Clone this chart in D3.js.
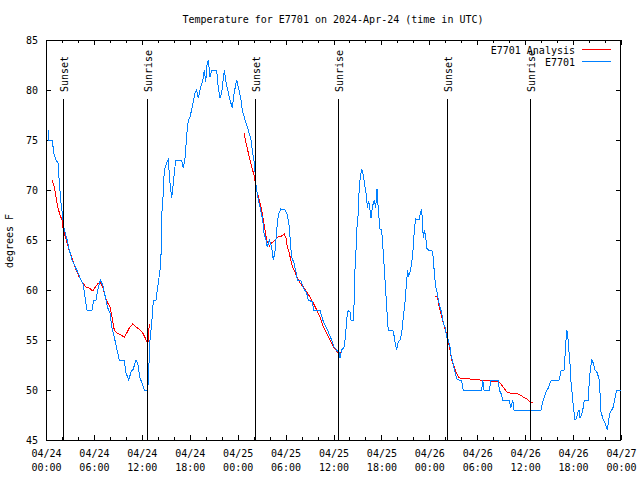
<!DOCTYPE html>
<html>
<head>
<meta charset="utf-8">
<script src="https://cdn.jsdelivr.net/npm/d3@7"></script>
<style>
body { margin: 0; background: #fff; }
text { font-family: "DejaVu Sans Mono", monospace; font-size: 10px; fill: #000; }
</style>
</head>
<body>
<svg id="chart" width="640" height="480"></svg>
<script>
var title = "Temperature for E7701 on 2024-Apr-24 (time in UTC)";
var yLabel = "degrees F";
var startDay = Date.UTC(2024, 3, 24);   // 04/24 00:00 UTC
var endDay = Date.UTC(2024, 3, 27);

// observed E7701 (hours since 04/24 00:00, degrees F)
var obsHours = [0.25,0.34,0.84,0.91,1.25,1.50,1.67,1.88,2.09,2.29,2.59,2.92,3.26,3.67,3.97,4.38,4.67,4.88,5.13,5.76,
  5.97,6.26,6.47,6.80,7.10,7.43,7.73,8.01,8.23,8.55,8.89,9.18,9.80,10.02,10.36,10.64,10.93,11.27,11.48,11.77,
  12.02,12.31,12.73,12.81,13.02,13.27,13.44,13.77,14.06,14.36,14.46,14.53,14.69,14.81,15.11,15.31,15.53,15.74,15.94,16.24,
  16.99,17.19,17.41,17.62,17.82,18.03,18.37,18.66,18.87,19.07,19.28,19.70,19.82,20.00,20.16,20.32,20.54,20.75,21.37,21.50,
  21.79,22.00,22.33,22.50,22.75,23.04,23.33,23.58,23.88,24.08,24.42,24.58,24.92,25.33,25.67,25.83,26.08,26.30,26.58,26.88,
  27.14,27.30,27.55,27.71,27.96,28.26,28.46,28.67,28.89,29.09,29.39,29.93,30.22,30.47,30.64,30.77,31.05,31.30,31.47,31.89,
  32.22,32.64,32.85,33.40,33.47,34.31,34.65,35.06,35.35,35.77,36.06,36.40,36.73,36.81,37.03,37.35,37.53,37.69,37.85,38.07,
  38.19,38.48,38.57,38.69,38.82,38.91,39.11,39.19,39.32,39.53,39.73,39.94,40.16,40.23,40.36,40.48,40.70,40.86,41.11,41.28,
  41.45,41.61,41.82,42.03,42.24,42.45,42.66,42.79,42.86,43.49,43.70,43.91,44.11,44.33,44.54,44.74,44.95,45.04,45.17,45.29,
  45.37,45.58,45.79,45.99,46.12,46.29,46.71,46.87,47.04,47.12,47.24,47.37,47.55,47.67,47.87,48.30,48.50,48.62,48.80,48.92,
  49.12,49.34,49.55,49.75,49.96,50.17,50.38,50.59,50.71,50.93,51.09,51.25,51.43,52.05,52.25,54.56,54.68,54.85,55.51,55.72,
  56.64,56.76,57.06,57.19,58.01,58.19,58.44,58.60,61.98,62.20,62.61,62.90,63.20,64.28,64.45,64.90,65.03,65.20,65.33,65.45,
  65.61,65.74,65.90,66.03,66.24,66.45,66.58,66.74,66.87,67.08,67.28,67.41,67.91,68.03,68.21,68.33,68.53,68.75,69.03,69.28,
  69.37,69.50,69.78,70.00,70.29,70.46,70.62,70.84,71.04,71.25,71.46,72.00];
var obsTemps = [76,75,75,73.8,73,72.7,70.7,68.7,67.3,66,65.2,64,63,62.3,61.8,61,60.5,59.3,58,58,
  59,59,60,61,60.5,59.3,58.2,57.7,56.3,55.3,54,53,53,51.7,51,51.8,52.1,53,52.7,51.2,
  50.7,50,50,51,55,57,59,59,60.7,62.5,65,68,69.7,72,72.7,73,70.7,69.2,70.7,73,
  73,72.2,73.2,75.5,77,77.3,78.5,79.7,80,79.2,80,81.2,82,80.8,82.5,83,81.3,82,82,80.7,
  79.2,79.7,82,81,80,79,78.2,79.8,81,80.3,79,78,77,76,75,74,72.7,70.5,69,68,
  67,65.7,65,64.3,65,64.3,63,63.8,66,67.5,68.1,68,67.5,66.3,64.3,63.3,62.7,61.8,61,61,
  60.2,59.7,59,58.8,58,58,57,56.3,55.8,55,54.3,54,53.7,53.2,54,54.3,55.7,57.3,58,57.8,
  57,57,58.5,62,64,66,67.8,69.7,71,72.1,71.5,70.3,69.3,68.2,68.8,68.6,67.2,68.3,69,68.2,
  70.1,68,66.1,66,63.7,61,58.3,56.7,56,55.9,54.8,54,54.8,55,55.7,57.3,58.7,59.7,61,62,
  61.3,61.8,62.7,64.3,66,67.1,67,67.7,68.1,67,65.2,66,65.3,64.2,64,64,63.3,61.7,60.3,60,
  59,58.3,57.7,56.7,56.3,55.3,55,54.3,53.5,52.8,52.2,51.7,51.1,50.9,50,50,51,50,50,51,
  51,50,49.5,49,49,48.2,49,48,48,48.8,49.8,50.2,50.9,51,51.9,52,54,56,55.5,54.2,
  52.7,50.8,49.5,48.3,47,47.2,47.7,48,47.2,47.5,48.3,49,49,51,52.3,53,52.7,52,51.7,51,
  49.7,47.8,47,46.7,46,47,47.7,48,48.3,49.2,50,50];

// E7701 Analysis, three runs (null = gap)
var anaHours = [0.75,1.04,1.25,1.47,1.75,2.00,2.17,2.42,2.72,3.01,3.34,3.76,4.17,4.60,5.01,5.42,5.85,6.17,6.47,6.80,
  7.10,7.43,7.73,8.01,8.26,8.55,8.85,9.39,9.80,10.11,10.43,10.86,11.27,11.68,12.11,12.43,12.65,12.77,12.86,12.94,
  13.0,
  24.79,25.13,25.46,25.76,26.05,26.30,26.46,26.71,27.01,27.21,27.42,27.64,27.96,28.26,28.67,29.09,29.51,29.84,30.05,30.22,
  30.47,30.64,30.89,31.18,31.47,31.81,32.22,32.64,33.06,33.47,33.90,34.31,34.72,35.15,35.56,35.98,36.31,36.60,36.94,
  37.0,
  48.71,49.00,49.25,49.55,49.84,50.17,50.38,50.59,50.80,51.09,51.34,51.63,51.84,53.09,54.35,55.60,56.64,56.85,57.06,57.35,
  57.69,58.10,58.94,59.35,59.77,60.19,60.61,60.94];
var anaTemps = [71,70.3,69.3,68.3,67.5,67,66,65.3,64.5,63.7,63,62,61.3,60.7,60.3,60.2,59.9,60.3,60.6,60.8,
  60.3,59.3,58.7,58.3,57.3,56,55.7,55.5,55.3,55.7,56.2,56.6,56.3,56.1,55.7,55.2,54.8,54.7,55.7,56.6,
  null,
  75.7,74.4,73.3,72.3,71.5,70.3,69.7,69,68,67,66,65,64.4,64.7,65,65.3,65.4,65.6,65.2,64.3,
  63.7,63,62.3,61.8,61.2,60.7,60.3,59.8,59.3,58.7,58,57.3,56.3,55.7,55,54.3,54,53.7,53.8,
  null,
  59.4,59.3,58.3,57.3,56.5,55.5,54.8,54,53,52.4,51.8,51.3,51.2,51.1,51,50.9,50.8,50.7,50.5,50.2,
  49.8,49.7,49.7,49.5,49.3,49.1,48.8,48.7];

var sunHours = [2.17, 12.68, 26.21, 36.62, 50.25, 60.62];
var sunNames = ["Sunset", "Sunrise", "Sunset", "Sunrise", "Sunset", "Sunrise"];
var yTicks = [45, 50, 55, 60, 65, 70, 75, 80, 85];
var seriesNames = ["E7701 Analysis", "E7701"];
var seriesColors = ["#ff0000", "#0080ff"];

var svg = d3.select("#chart");
var plotL = 46, plotR = 621, plotT = 40, plotB = 440;

function hourToDate(h) { return new Date(startDay + h * 3600000); }

var x = d3.scaleUtc().domain([new Date(startDay), new Date(endDay)]).range([plotL, plotR]);
var y = d3.scaleLinear().domain([45, 85]).range([plotB, plotT]);

// title
svg.append("text").attr("x", 333).attr("y", 23).attr("text-anchor", "middle").text(title);

// y label
svg.append("text")
  .attr("transform", "translate(13,241) rotate(-90)")
  .attr("text-anchor", "middle")
  .text(yLabel);

// axes: ticks point inward, mirrored on the other side
var fmtDay = d3.utcFormat("%m/%d"), fmtTime = d3.utcFormat("%H:%M");
var majorX = d3.utcHour.every(6).range(new Date(startDay), new Date(endDay + 1));
var minorX = d3.utcHour.every(2).range(new Date(startDay), new Date(endDay + 1));

var xb = svg.append("g").attr("transform", "translate(0," + plotB + ")")
  .call(d3.axisBottom(x).tickValues(majorX).tickSize(-5).tickSizeOuter(0)
    .tickFormat(function(d) { return fmtDay(d); }));
xb.selectAll(".tick text").each(function(d) {
  var t = d3.select(this).text("").attr("dy", null).attr("y", 17);
  t.append("tspan").attr("x", 0).text(fmtDay(d));
  t.append("tspan").attr("x", 0).attr("dy", 14).text(fmtTime(d));
});
svg.append("g").attr("transform", "translate(0," + plotB + ")")
  .call(d3.axisBottom(x).tickValues(minorX).tickSize(-3).tickSizeOuter(0).tickFormat(""));
svg.append("g").attr("transform", "translate(0," + plotT + ")")
  .call(d3.axisTop(x).tickValues(majorX).tickSize(-5).tickSizeOuter(0).tickFormat(""));
svg.append("g").attr("transform", "translate(0," + plotT + ")")
  .call(d3.axisTop(x).tickValues(minorX).tickSize(-3).tickSizeOuter(0).tickFormat(""));

svg.append("g").attr("transform", "translate(" + plotL + ",0)")
  .call(d3.axisLeft(y).tickValues(yTicks).tickSize(-5).tickSizeOuter(0).tickPadding(8));
svg.append("g").attr("transform", "translate(" + plotR + ",0)")
  .call(d3.axisRight(y).tickValues(yTicks).tickSize(-5).tickSizeOuter(0).tickFormat(""));

svg.selectAll(".domain").remove();
svg.selectAll(".tick line").attr("stroke", "#000").attr("shape-rendering", "crispEdges");
svg.selectAll(".tick text").attr("font-family", null).attr("font-size", null);

// frame
svg.append("rect").attr("x", plotL + 0.5).attr("y", plotT + 0.5)
  .attr("width", plotR - plotL - 1).attr("height", plotB - plotT)
  .attr("fill", "none").attr("stroke", "#000").attr("shape-rendering", "crispEdges");

// series
var line = d3.line()
  .defined(function(d) { return d[1] != null; })
  .x(function(d) { return x(hourToDate(d[0])); })
  .y(function(d) { return y(d[1]); });

var anaData = anaHours.map(function(h, i) { return [h, anaTemps[i]]; });
var obsData = obsHours.map(function(h, i) { return [h, obsTemps[i]]; });

svg.append("path").datum(anaData).attr("d", line)
  .style("fill", "none").style("stroke", seriesColors[0]).style("stroke-width", 1)
  .attr("shape-rendering", "crispEdges");
svg.append("path").datum(obsData).attr("d", line)
  .style("fill", "none").style("stroke", seriesColors[1]).style("stroke-width", 1)
  .attr("shape-rendering", "crispEdges");

// sunrise / sunset markers
sunHours.forEach(function(h, i) {
  var sx = Math.round(x(hourToDate(h))) + 0.5;
  svg.append("line").attr("x1", sx).attr("x2", sx).attr("y1", 99).attr("y2", plotB)
    .style("stroke", "#000").attr("shape-rendering", "crispEdges");
  svg.append("text")
    .attr("transform", "translate(" + (sx + 4.5) + ",92) rotate(-90)")
    .text(sunNames[i]);
});

// legend
seriesNames.forEach(function(name, i) {
  var ly = 50 + i * 12;
  svg.append("text").attr("x", 575).attr("y", ly + 4).attr("text-anchor", "end").text(name);
  svg.append("rect").attr("x", 582).attr("y", ly - 1).attr("width", 29).attr("height", 1)
    .style("fill", seriesColors[i]).attr("shape-rendering", "crispEdges");
});
</script>
</body>
</html>
